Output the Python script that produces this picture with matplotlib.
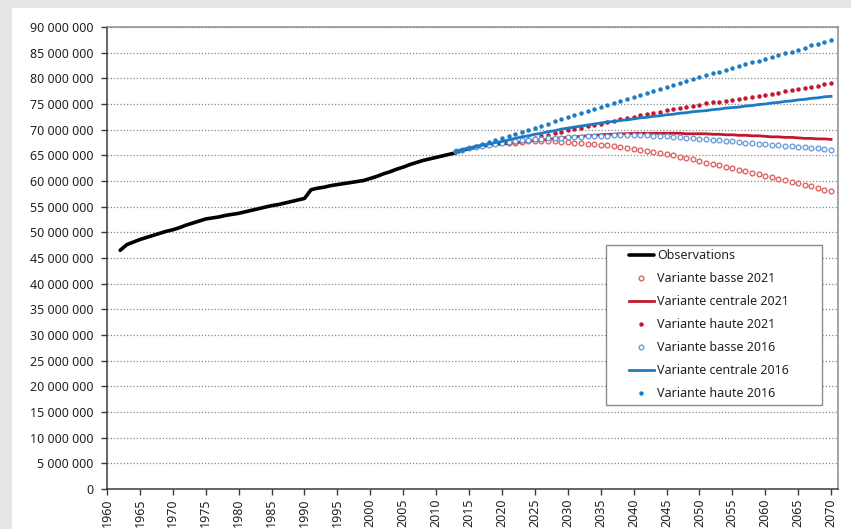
#!/usr/bin/env python3
import numpy as np
import matplotlib
matplotlib.use('Agg')
import matplotlib.pyplot as plt
from matplotlib.patches import Rectangle
from matplotlib.ticker import FuncFormatter, MultipleLocator

plt.rcParams['font.family'] = 'Noto Sans'
plt.rcParams['font.weight'] = 'semibold'

# Population in millions
obs_years = np.arange(1962, 2022)
obs_pop = [46.5, 47.6, 48.1, 48.6, 49.0, 49.4, 49.8, 50.2, 50.5,
           50.9, 51.4, 51.8, 52.2, 52.6, 52.8, 53.0, 53.3, 53.5, 53.7,
           54.0, 54.3, 54.6, 54.9, 55.2, 55.4, 55.7, 56.0, 56.3, 56.6,
           58.3, 58.6, 58.8, 59.1, 59.3, 59.5, 59.7, 59.9, 60.1, 60.5,
           60.9, 61.4, 61.8, 62.3, 62.7, 63.2, 63.6, 64.0, 64.3, 64.6,
           64.9, 65.2, 65.5, 66.0, 66.3, 66.6, 66.8, 67.0, 67.2, 67.3,
           67.4]

# projections 2021 (2021-2070)
p21_years = np.arange(2021, 2071)
basse_2021 = [67.4, 67.5, 67.6, 67.7, 67.7, 67.7, 67.7, 67.7, 67.6, 67.6,
              67.5, 67.4, 67.3, 67.2, 67.1, 67.0, 66.8, 66.7, 66.5, 66.3,
              66.1, 65.9, 65.7, 65.5, 65.2, 65.0, 64.7, 64.4, 64.2, 63.9,
              63.6, 63.3, 63.1, 62.8, 62.5, 62.2, 61.9, 61.6, 61.3, 61.0,
              60.7, 60.4, 60.2, 59.9, 59.6, 59.3, 59.0, 58.6, 58.3, 58.0]
centrale_2021 = [67.4, 67.5, 67.6, 67.8, 67.9, 68.0, 68.1, 68.3, 68.4, 68.5,
                 68.6, 68.7, 68.8, 68.9, 69.0, 69.1, 69.1, 69.2, 69.2, 69.3,
                 69.3, 69.3, 69.3, 69.3, 69.3, 69.3, 69.3, 69.2, 69.2, 69.2,
                 69.2, 69.1, 69.1, 69.0, 69.0, 68.9, 68.9, 68.8, 68.8, 68.7,
                 68.6, 68.6, 68.5, 68.5, 68.4, 68.3, 68.3, 68.2, 68.2, 68.1]
haute_2021 = [67.4, 67.6, 67.9, 68.1, 68.4, 68.7, 69.0, 69.3, 69.6, 69.9,
              70.2, 70.4, 70.7, 70.9, 71.2, 71.5, 71.7, 72.0, 72.2, 72.5,
              72.8, 73.0, 73.3, 73.5, 73.8, 74.0, 74.2, 74.5, 74.7, 74.9,
              75.1, 75.3, 75.4, 75.6, 75.8, 76.0, 76.2, 76.4, 76.6, 76.8,
              77.0, 77.2, 77.5, 77.7, 77.9, 78.1, 78.4, 78.6, 78.9, 79.1]

# projections 2016 (2013-2070)
p16_years = np.arange(2013, 2071)
basse_2016 = [65.8, 66.1, 66.4, 66.6, 66.8, 67.0, 67.2, 67.4,
              67.6, 67.7, 67.9, 68.0, 68.1, 68.2, 68.3, 68.4, 68.4, 68.5,
              68.6, 68.6, 68.7, 68.7, 68.8, 68.8, 68.9, 68.9, 68.9, 68.9,
              68.9, 68.9, 68.8, 68.8, 68.7, 68.6, 68.5, 68.4, 68.3, 68.2,
              68.1, 68.0, 67.9, 67.8, 67.7, 67.6, 67.5, 67.4, 67.3, 67.2,
              67.1, 67.0, 66.9, 66.8, 66.7, 66.6, 66.5, 66.4, 66.2, 66.1]
centrale_2016 = [65.8, 66.1, 66.4, 66.7, 67.0, 67.2, 67.5, 67.7,
                 68.0, 68.3, 68.6, 68.8, 69.1, 69.3, 69.6, 69.8, 70.1, 70.3,
                 70.5, 70.7, 70.9, 71.1, 71.3, 71.5, 71.6, 71.8, 71.9, 72.1,
                 72.3, 72.4, 72.6, 72.7, 72.9, 73.0, 73.2, 73.3, 73.5, 73.6,
                 73.7, 73.9, 74.0, 74.2, 74.3, 74.4, 74.6, 74.7, 74.9, 75.0,
                 75.2, 75.3, 75.5, 75.6, 75.8, 75.9, 76.1, 76.2, 76.4, 76.5]
haute_2016 = [65.8, 66.1, 66.5, 66.9, 67.3, 67.6, 68.0, 68.4,
              68.8, 69.2, 69.5, 69.9, 70.3, 70.7, 71.1, 71.6, 72.0, 72.4,
              72.8, 73.2, 73.6, 74.0, 74.4, 74.8, 75.2, 75.6, 76.0, 76.4,
              76.8, 77.2, 77.5, 77.9, 78.3, 78.7, 79.1, 79.5, 79.9, 80.3,
              80.6, 81.0, 81.3, 81.7, 82.0, 82.4, 82.7, 83.1, 83.4, 83.8,
              84.2, 84.5, 84.9, 85.2, 85.6, 86.0, 86.4, 86.7, 87.1, 87.5]

tick_years = np.arange(1960, 2071, 5)

RED = '#c3172e'
RED_LIGHT = '#e06464'
BLUE = '#1b7bc4'
BLUE_LIGHT = '#6b9fd8'
TXT = '#222222'

fig = plt.figure(figsize=(8.51, 5.29), dpi=100, facecolor='#e6e6e6')
fig.patches.append(Rectangle((12 / 851, 0), 1, 521 / 529, transform=fig.transFigure,
                             facecolor='white', edgecolor='none', zorder=-5))
ax = fig.add_axes([107 / 851, 40 / 529, 731.3 / 851, 462 / 529], zorder=2)
ax.set_facecolor('white')

ax.plot(obs_years, obs_pop, color='black', lw=2.6, solid_capstyle='round',
        label='Observations', zorder=3)
ax.plot(p21_years, basse_2021, ls='none', marker='o', ms=3.4, mfc='white',
        mec=RED_LIGHT, mew=1.0, label='Variante basse 2021', zorder=4)
ax.plot(p21_years, centrale_2021, color=RED, lw=2.0, label='Variante centrale 2021', zorder=4)
ax.plot(p21_years, haute_2021, ls='none', marker='o', ms=3.2, mfc=RED, mec=RED,
        mew=0, label='Variante haute 2021', zorder=4)
ax.plot(p16_years, basse_2016, ls='none', marker='o', ms=3.4, mfc='white',
        mec=BLUE_LIGHT, mew=1.0, label='Variante basse 2016', zorder=4)
ax.plot(p16_years, centrale_2016, color=BLUE, lw=2.0, label='Variante centrale 2016', zorder=4)
ax.plot(p16_years, haute_2016, ls='none', marker='o', ms=3.2, mfc=BLUE, mec=BLUE,
        mew=0, label='Variante haute 2016', zorder=4)

ax.set_xlim(1960, 2071.1)
ax.set_ylim(0, 90)
ax.set_xticks(tick_years)
ax.set_xticklabels([str(y) for y in tick_years], fontsize=9, color=TXT,
                   rotation=90, va='top', ha='center')
ax.yaxis.set_major_locator(MultipleLocator(5))
ax.yaxis.set_major_formatter(FuncFormatter(
    lambda v, p: '0' if v == 0 else f'{v * 1e6:,.0f}'.replace(',', ' ')))

ax.yaxis.grid(True, ls=(0, (1, 1.6)), color='#8a8a8a', lw=0.9)
ax.set_axisbelow(True)

for s in ['left', 'bottom']:
    ax.spines[s].set_color('#3a3a3a')
    ax.spines[s].set_linewidth(1.1)
for s in ['top', 'right']:
    ax.spines[s].set_color('#8c8c8c')
    ax.spines[s].set_linewidth(1.1)

ax.tick_params(axis='x', direction='out', length=4, width=1, color='#3a3a3a',
               pad=2.5, labelrotation=90)
ax.tick_params(axis='y', direction='out', length=4, width=1, color='#3a3a3a',
               labelsize=9, labelcolor=TXT, pad=5.5)

# legend box drawn by hand so it has the same roomy frame as the original
box = Rectangle((0.682, 0.182), 0.296, 0.346, transform=ax.transAxes,
                facecolor='white', edgecolor='#8c8c8c', lw=1.0, zorder=6)
ax.add_patch(box)
leg = ax.legend(loc='center', bbox_to_anchor=(0.823, 0.182 + 0.173),
                frameon=False, handlelength=2.0, handletextpad=0.3,
                labelspacing=0.8, borderpad=0.2,
                prop={'weight': 'semibold', 'size': 9})
leg.set_zorder(7)
for t in leg.get_texts():
    t.set_color(TXT)

plt.savefig('out.png', dpi=100, facecolor=fig.get_facecolor())
